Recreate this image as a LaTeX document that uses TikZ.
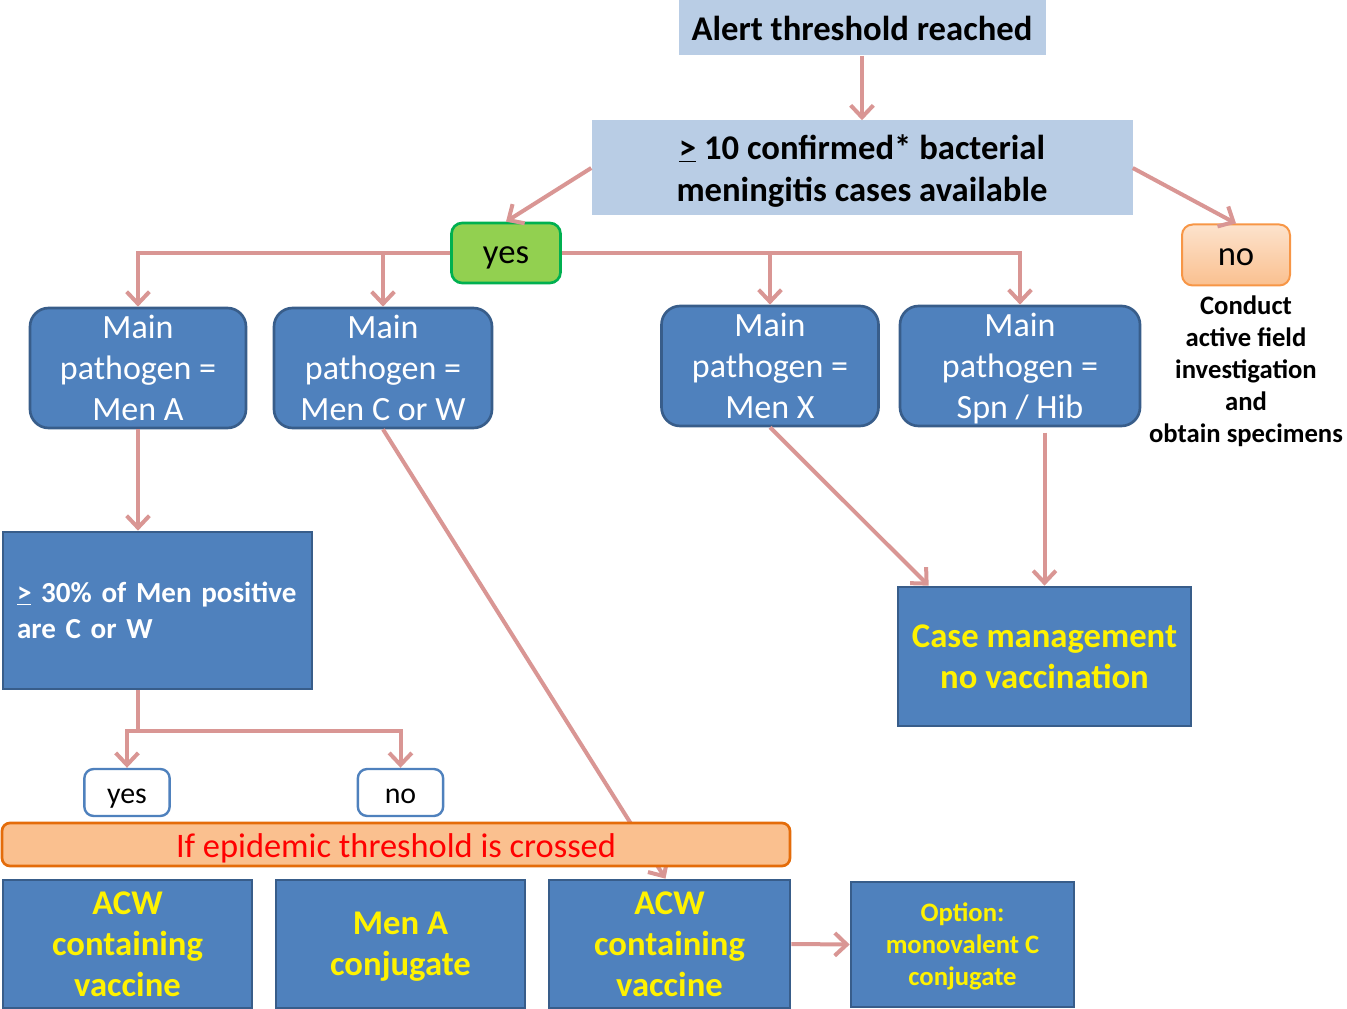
\documentclass[tikz,border=0pt]{standalone}
\usepackage{fontspec}
\setmainfont{Carlito}
\usetikzlibrary{arrows.meta,positioning}

\definecolor{paleblue}{RGB}{185,205,229}
\definecolor{boxblue}{RGB}{79,129,189}
\definecolor{boxedge}{RGB}{56,93,138}
\definecolor{yesgreen}{RGB}{146,208,80}
\definecolor{yesedge}{RGB}{0,176,80}
\definecolor{barfill}{RGB}{250,192,143}
\definecolor{baredge}{RGB}{228,108,10}
\definecolor{noedge}{RGB}{247,150,70}
\definecolor{linkpink}{RGB}{217,150,148}

\tikzset{
  topbox/.style={fill=paleblue,inner sep=0pt,align=center,text depth=0pt,
    font=\fontsize{26}{31}\selectfont\bfseries},
  pathbox/.style={draw=boxedge,line width=2pt,fill=boxblue,rounded corners=14pt,
    inner sep=0pt,minimum height=90pt,align=center,text=white,text depth=0pt,
    font=\fontsize{25.5}{30.75}\selectfont},
  vacbox/.style={draw=boxedge,line width=2pt,fill=boxblue,inner sep=0pt,
    minimum height=96pt,align=center,text=yellow,text depth=0pt,
    font=\fontsize{26}{30.75}\selectfont\bfseries},
  choice/.style={draw=boxblue,line width=1.8pt,fill=white,rounded corners=7pt,
    inner sep=0pt,minimum width=64pt,minimum height=35.25pt,
    text height=17pt,text depth=1pt,
    font=\fontsize{22.4}{26}\selectfont},
  conn/.style={draw=linkpink,line width=3pt,
    -{Straight Barb[length=9pt,width=17pt,line width=3pt]}},
}

\begin{document}
\begin{tikzpicture}[x=0.75pt,y=-0.75pt]
\useasboundingbox (0,0) rectangle (1347,1009);

% top of the chart
\node[topbox,minimum width=275.25pt,minimum height=41.25pt] (alert) at (862,28)
  {Alert threshold reached};
\node[topbox,minimum width=405.75pt,minimum height=71.25pt] (cases) at (862,168)
  {\underline{>} 10 confirmed* bacterial\\meningitis cases available};
\node[draw=yesedge,line width=2pt,fill=yesgreen,rounded corners=8pt,inner sep=0pt,
  minimum width=81.75pt,minimum height=45pt,text height=17pt,text depth=1pt,
  font=\fontsize{26}{30}\selectfont] (yes) at (506,253) {yes};
\node[draw=noedge,line width=1.5pt,top color=barfill!45,bottom color=barfill,
  rounded corners=8pt,inner sep=0pt,minimum width=81pt,minimum height=45.75pt,
  text height=17pt,text depth=1pt,
  font=\fontsize{26}{30}\selectfont] (no) at (1236,255) {no};
\node[align=center,font=\fontsize{20}{24}\selectfont\bfseries] (field) at (1246,371)
  {Conduct\\ active field\\investigation\\and\\obtain specimens};

\draw[conn] (alert) -- (cases);
\draw[conn] (cases.west) -- (yes.north);
\draw[conn] (cases.east) -- (no.north);

% main pathogen
\node[pathbox,minimum width=162pt] (menA) at (138,368) {Main\\pathogen =\\Men A};
\node[pathbox,minimum width=163.5pt] (menC) at (383,368) {Main\\pathogen =\\Men C or W};
\node[pathbox,minimum width=162.75pt] (menX) at (770,366) {Main\\pathogen =\\Men X};
\node[pathbox,minimum width=180pt] (spn) at (1020,366) {Main\\pathogen =\\Spn / Hib};

\draw[conn] (yes.west) -| (menA.north);
\draw[conn] (yes.west -| menC.north) -- (menC.north);
\draw[conn] (yes.east) -| (spn.north);
\draw[conn] (yes.east -| menX.north) -- (menX.north);

% Men A branch
\node[draw=boxedge,line width=2pt,fill=boxblue,inner xsep=10.5pt,inner ysep=0pt,
  text width=210.75pt,minimum height=117.75pt,align=left,text=white,
  font=\fontsize{21.8}{27}\selectfont\bfseries] (share) at (157.5,610.5)
  {\underline{>} 30\% of Men positive\\are C or W};
\draw[conn] (menA.south) -- (menA.south |- share.north);

\node[choice] (yes2) at (127,792.5) {yes};
\node[choice] (no2) at (400.5,792.5) {no};
\draw[conn] (menA.south |- share.south) -- ++(0,41) -| (yes2.north);
\draw[conn] (menA.south |- share.south) -- ++(0,41) -| (no2.north);

% vaccines
\node[vacbox,minimum width=186.75pt] (acwA) at (127.5,944) {ACW\\containing\\vaccine};
\node[vacbox,minimum width=186.75pt] (conj) at (400.5,944) {Men A\\conjugate};
\node[vacbox,minimum width=180.75pt] (acwB) at (669.5,944) {ACW\\containing\\vaccine};
\node[vacbox,minimum width=167.25pt,minimum height=93.75pt,
  font=\fontsize{20}{24}\selectfont\bfseries] (option) at (962.5,944.5)
  {Option:\\monovalent C\\conjugate};

\draw[conn] (menC.south) -- ([xshift=-3pt]acwB.north);
\draw[conn] (acwB.east) -- (option.west);

\node[draw=baredge,line width=2pt,fill=barfill,rounded corners=6pt,inner sep=0pt,
  minimum width=591pt,minimum height=32.25pt,text=red,
  text height=21.5pt,text depth=1.5pt,
  font=\fontsize{25.8}{30}\selectfont] (epi) at (396,844.5)
  {If epidemic threshold is crossed};

% no vaccination
\node[vacbox,minimum width=219.75pt,minimum height=104.25pt] (care) at (1044.5,656.5)
  {Case management\\no vaccination};
\draw[conn] (menX.south) -- ([xshift=24pt]care.north west);
\draw[conn] ([yshift=-4pt]spn.south -| care.north) -- (care.north);
\end{tikzpicture}
\end{document}
